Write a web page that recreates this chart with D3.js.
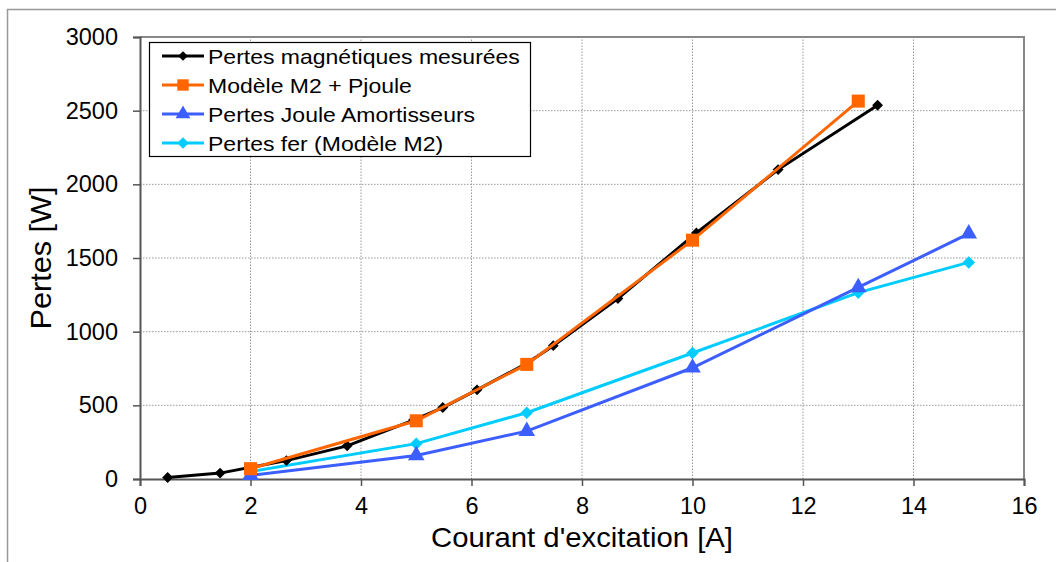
<!DOCTYPE html>
<html>
<head>
<meta charset="utf-8">
<script src="https://cdn.jsdelivr.net/npm/d3@7"></script>
<style>
  body { margin: 0; background: #fff; }
  svg { font-family: "Liberation Sans", Arial, sans-serif; }
</style>
</head>
<body>
<div id="chart"></div>
<script>
// Data
const mesureesX = [0.5, 1.45, 2.65, 3.75, 4.95, 5.48, 6.1, 7.0, 7.48, 8.65, 10.07, 11.55, 13.35];
const mesureesY = [10, 40, 125, 225, 400, 485, 605, 785, 905, 1225, 1670, 2100, 2537];
const modeleX = [2, 5, 7, 10, 13];
const modeleY = [70, 395, 778, 1621, 2565];
const jouleX = [2, 5, 7, 10, 13, 15];
const jouleY = [25, 160, 325, 755, 1300, 1665];
const ferX = [2, 5, 7, 10, 13, 15];
const ferY = [50, 240, 450, 855, 1265, 1470];
const xTicks = [0, 2, 4, 6, 8, 10, 12, 14, 16];
const yTicks = [0, 500, 1000, 1500, 2000, 2500, 3000];

const series = [
  { name: "Pertes magnétiques mesurées", xs: mesureesX, ys: mesureesY, color: "#000000", marker: "diamond", size: 75, legSize: 60 },
  { name: "Modèle M2 + Pjoule", xs: modeleX, ys: modeleY, color: "#FF6600", marker: "square", size: 170, legSize: 130 },
  { name: "Pertes Joule Amortisseurs", xs: jouleX, ys: jouleY, color: "#3D5EFF", marker: "triangle", size: 120, legSize: 95 },
  { name: "Pertes fer (Modèle M2)", xs: ferX, ys: ferY, color: "#00CCFF", marker: "diamond", size: 100, legSize: 85 }
];

const width = 1056, height = 562;
const margin = { top: 37, right: 32, bottom: 83, left: 140 };

const svg = d3.select("#chart").append("svg")
  .attr("width", width).attr("height", height);

// outer frame (cropped on right/bottom)
svg.append("path")
  .attr("d", `M7.5,${height} V9.5 H${width}`)
  .attr("fill", "none").attr("stroke", "#999").attr("stroke-width", 1.5);

const x = d3.scaleLinear().domain([0, 16]).range([margin.left, width - margin.right]);
const y = d3.scaleLinear().domain([0, 3000]).range([height - margin.bottom, margin.top]);

// grid
svg.append("g").selectAll("line").data(xTicks.slice(1, -1)).enter().append("line")
  .attr("x1", d => x(d)).attr("x2", d => x(d))
  .attr("y1", y(0)).attr("y2", y(3000))
  .attr("stroke", "#999").attr("stroke-dasharray", "1.5,1.5");
svg.append("g").selectAll("line").data(yTicks.slice(1, -1)).enter().append("line")
  .attr("x1", x(0)).attr("x2", x(16))
  .attr("y1", d => y(d)).attr("y2", d => y(d))
  .attr("stroke", "#999").attr("stroke-dasharray", "1.5,1.5");

// plot border top/right
svg.append("path")
  .attr("d", `M${x(0)},${y(3000)} H${x(16)} V${y(0)}`)
  .attr("fill", "none").attr("stroke", "#888").attr("stroke-width", 2);

// axes
const yAxis = svg.append("g")
  .attr("transform", `translate(${x(0)},0)`)
  .call(d3.axisLeft(y).tickValues(yTicks).tickFormat(d3.format("d")).tickSize(7).tickPadding(15));
const xAxis = svg.append("g")
  .attr("transform", `translate(0,${y(0)})`)
  .call(d3.axisBottom(x).tickValues(xTicks).tickFormat(d3.format("d")).tickSize(7).tickPadding(11));
[yAxis, xAxis].forEach(g => {
  g.select(".domain").attr("stroke", "#555").attr("stroke-width", 2);
  g.selectAll(".tick line").attr("stroke", "#555").attr("stroke-width", 1.5);
  g.selectAll("text").attr("font-size", 23.5).attr("fill", "#000")
    .attr("font-family", "Liberation Sans, Arial, sans-serif");
});

// axis titles
svg.append("text")
  .attr("x", x(8)).attr("y", 547)
  .attr("text-anchor", "middle").attr("font-size", 28)
  .attr("textLength", 302).attr("lengthAdjust", "spacingAndGlyphs")
  .text("Courant d'excitation [A]");
svg.append("text")
  .attr("transform", `translate(51,${y(1500)}) rotate(-90)`)
  .attr("text-anchor", "middle").attr("font-size", 30)
  .attr("textLength", 143).attr("lengthAdjust", "spacingAndGlyphs")
  .text("Pertes [W]");

function symbolFor(s, size) {
  const type = s.marker === "square" ? d3.symbolSquare
    : s.marker === "triangle" ? d3.symbolTriangle : d3.symbolDiamond2;
  return d3.symbol().type(type).size(size);
}

const line = d3.line().x(d => x(d[0])).y(d => y(d[1]));

// cyan and blue first, measured curve under the orange model
const drawOrder = [3, 2, 0, 1];
drawOrder.forEach(i => {
  const s = series[i];
  const pts = s.xs.map((v, k) => [v, s.ys[k]]);
  const g = svg.append("g");
  g.append("path").datum(pts)
    .attr("d", line)
    .attr("fill", "none")
    .attr("stroke", s.color)
    .attr("stroke-width", 3);
  g.selectAll("path.m").data(pts).enter().append("path")
    .attr("class", "m")
    .attr("transform", d => `translate(${x(d[0])},${y(d[1])})`)
    .attr("d", symbolFor(s, s.size))
    .attr("fill", s.color);
});

// legend
const legend = svg.append("g").attr("transform", "translate(149,42)");
legend.append("rect")
  .attr("x", 0.5).attr("y", 0.5)
  .attr("width", 381).attr("height", 114)
  .attr("fill", "#fff").attr("stroke", "#000").attr("stroke-width", 1.2);
series.forEach((s, i) => {
  const row = legend.append("g").attr("transform", `translate(0,${14 + i * 29})`);
  row.append("line")
    .attr("x1", 13).attr("x2", 55).attr("y1", 0).attr("y2", 0)
    .attr("stroke", s.color).attr("stroke-width", 3);
  row.append("path")
    .attr("transform", "translate(34,0)")
    .attr("d", symbolFor(s, s.legSize))
    .attr("fill", s.color);
  const t = row.append("text")
    .attr("x", 59).attr("y", 7.5)
    .attr("font-size", 21)
    .text(s.name);
  const w = t.node().getComputedTextLength();
  t.attr("textLength", w * 1.095).attr("lengthAdjust", "spacingAndGlyphs");
});
</script>
</body>
</html>
